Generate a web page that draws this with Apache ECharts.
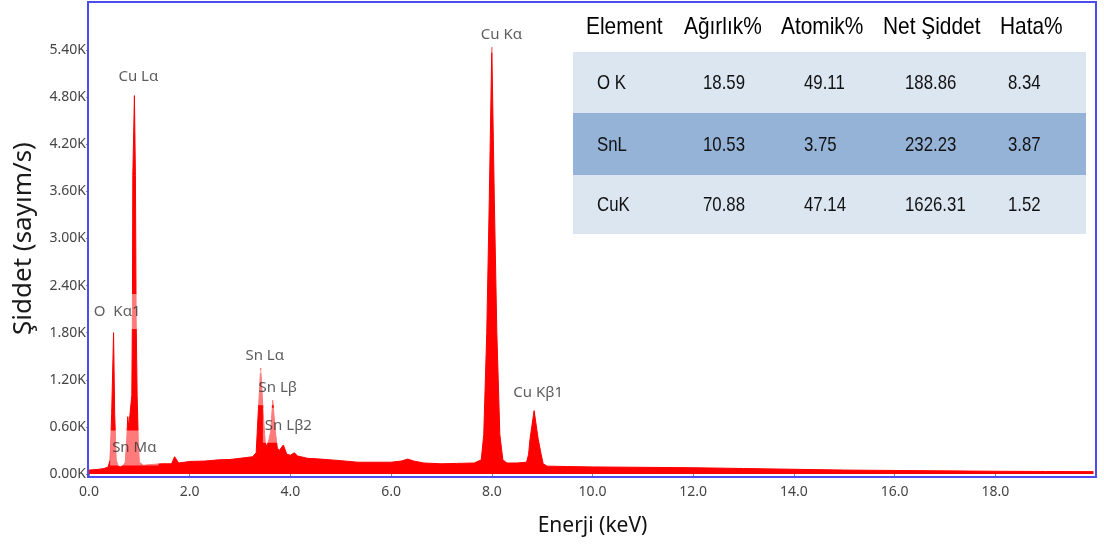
<!DOCTYPE html>
<html>
<head>
<meta charset="utf-8">
<script src="https://cdn.jsdelivr.net/npm/echarts@6/dist/echarts.min.js"></script>
<style>
    html, body { margin: 0; padding: 0; background: #fff; }
    #main { width: 1104px; height: 549px; }
</style>
</head>
<body>
<div id="main"></div>
<script>
// spektrum: enerji (keV) ve sayım/s, resimden okunan noktalar
var energy = [
    0.00, 0.10, 0.20, 0.30, 0.38, 0.42, 0.45, 0.488, 0.51, 0.54, 0.58, 0.62, 0.68, 0.72, 0.75, 0.77, 0.79, 0.82,
    0.85, 0.862, 0.87, 0.902, 0.922, 0.936, 0.956, 0.98, 1.00, 1.08, 1.20, 1.45, 1.64, 1.70, 1.78, 2.00, 2.30,
    2.57, 2.80, 3.00, 3.25, 3.32, 3.36, 3.41, 3.46, 3.50, 3.53, 3.58, 3.61, 3.65, 3.70, 3.74, 3.78, 3.86, 3.93,
    4.00, 4.08, 4.14, 4.34, 4.60, 5.00, 5.34, 5.70, 6.00, 6.20, 6.33, 6.45, 6.65, 7.00, 7.30, 7.65,
    7.79, 7.84, 7.90, 7.95, 8.00, 8.05, 8.10, 8.16, 8.22, 8.30, 8.50, 8.69, 8.73, 8.76, 8.84, 8.92, 8.98, 9.02,
    9.10, 9.50, 10.0, 11.0, 12.0, 13.0, 14.0, 15.0, 16.0, 17.0, 18.0, 19.0, 19.95
];
var counts = [
    50, 55, 60, 70, 90, 180, 770, 1800, 770, 180, 100, 90, 110, 150, 450, 730, 600, 620,
    1000, 2000, 3800, 4820, 3800, 2000, 1000, 400, 150, 110, 120, 130, 130, 220, 140, 160, 165,
    180, 185, 200, 220, 270, 770, 1350, 770, 400, 350, 450, 550, 940, 550, 330, 300, 370, 250,
    240, 270, 230, 200, 190, 170, 150, 150, 150, 165, 190, 165, 140, 130, 135, 140,
    180, 500, 1800, 3500, 5440, 3500, 1800, 500, 180, 140, 140, 150, 250, 450, 810, 450, 250, 130,
    100, 95, 90, 85, 80, 70, 60, 50, 45, 40, 35, 32, 30
];

// pik etiketleri
var peakNames = ['Cu Kα', 'Cu Lα', 'O  Kα1', 'Sn Lα', 'Sn Lβ', 'Sn Lβ2', 'Sn Mα', 'Cu Kβ1'];
var peakLabelX = [8.19, 0.98, 0.56, 3.49, 3.75, 3.96, 0.90, 8.92];
var peakLabelY = [5590, 5060, 2070, 1510, 1100, 620, 330, 1030];

// tablo
var tableHeaders = ['Element', 'Ağırlık%', 'Atomik%', 'Net Şiddet', 'Hata%'];
var elements = ['O K', 'SnL', 'CuK'];
var weightPct = ['18.59', '10.53', '70.88'];
var atomicPct = ['49.11', '3.75', '47.14'];
var netIntensity = ['188.86', '232.23', '1626.31'];
var errorPct = ['8.34', '3.87', '1.52'];

var chart = echarts.init(document.getElementById('main'));

var spectrum = [];
for (var i = 0; i < energy.length; i++) {
    spectrum.push([energy[i], counts[i]]);
}

var labels = [];
for (var i = 0; i < peakNames.length; i++) {
    labels.push({ name: peakNames[i], value: [peakLabelX[i], peakLabelY[i]] });
}

// tablo grafikleri
var headerX = [586, 684, 781, 883, 1000];
var cellX = [597, 703, 804, 905, 1008];
var rowTop = [52, 113, 175];
var rowH = [61, 62, 59];
var rowColors = ['#dce6f1', '#95b3d7', '#dce6f1'];
var tableGraphic = [];
for (var r = 0; r < 3; r++) {
    tableGraphic.push({
        type: 'rect', shape: { x: 573, y: rowTop[r], width: 513, height: rowH[r] },
        style: { fill: rowColors[r] }, z: 100
    });
}
for (var c = 0; c < tableHeaders.length; c++) {
    tableGraphic.push({
        type: 'text', x: headerX[c], y: 27, scaleX: 0.87, z: 101,
        style: { text: tableHeaders[c], fill: '#000', font: '24px "Liberation Sans", Arial, sans-serif', textAlign: 'left', textVerticalAlign: 'middle' }
    });
}
var cols = [elements, weightPct, atomicPct, netIntensity, errorPct];
for (var r = 0; r < 3; r++) {
    for (var c = 0; c < cols.length; c++) {
        tableGraphic.push({
            type: 'text', x: cellX[c], y: rowTop[r] + rowH[r] / 2 + 1, scaleX: 0.8, z: 101,
            style: { text: cols[c][r], fill: '#111', font: '21px "Liberation Sans", Arial, sans-serif', textAlign: 'left', textVerticalAlign: 'middle' }
        });
    }
}
// mavi çerçeve
tableGraphic.push({
    type: 'rect', shape: { x: 88, y: 2, width: 1008, height: 475 },
    style: { fill: 'none', stroke: '#4c4cf2', lineWidth: 2 }, z: 90
});

var option = {
    animation: false,
    backgroundColor: '#fff',
    grid: { left: 89, right: 8, top: 3, bottom: 75 },
    xAxis: {
        type: 'value', min: 0, max: 20, interval: 2,
        name: 'Enerji (keV)', nameLocation: 'middle', nameGap: 42,
        nameTextStyle: { fontSize: 21, color: '#111', fontFamily: 'Noto Sans' },
        axisLine: { show: false },
        axisTick: { show: true, length: 4, lineStyle: { color: '#888' } },
        axisLabel: {
            showMaxLabel: false, margin: 11, fontSize: 14, color: '#444', fontFamily: 'Noto Sans',
            formatter: function(v) { return v.toFixed(1); }
        },
        splitLine: { show: false }
    },
    yAxis: {
        type: 'value', min: 0, max: 6000, interval: 600,
        name: 'Şiddet (sayım/s)', nameLocation: 'middle', nameGap: 52,
        nameTextStyle: { fontSize: 26, color: '#1a1a1a', fontFamily: 'Noto Sans' },
        axisLine: { show: false },
        axisTick: { show: true, length: 3, lineStyle: { color: '#888' } },
        axisLabel: {
            showMaxLabel: false, margin: 3, fontSize: 14, color: '#444', fontFamily: 'Noto Sans',
            formatter: function(v) { return (v / 1000).toFixed(2) + 'K'; }
        },
        splitLine: { show: false }
    },
    series: [{
        type: 'line',
        data: spectrum,
        symbol: 'none',
        lineStyle: { color: '#ff0000', width: 1 },
        areaStyle: { color: '#ff0000', opacity: 1 }
    }, {
        type: 'scatter',
        data: labels,
        symbolSize: 0,
        z: 5,
        label: {
            show: true, position: 'inside', formatter: '{b}',
            fontSize: 15, color: '#333', fontFamily: 'Noto Sans',
            backgroundColor: 'rgba(255,255,255,0.6)', padding: [9, 2, 11, 2]
        }
    }],
    graphic: tableGraphic
};

chart.setOption(option);
</script>
</body>
</html>
